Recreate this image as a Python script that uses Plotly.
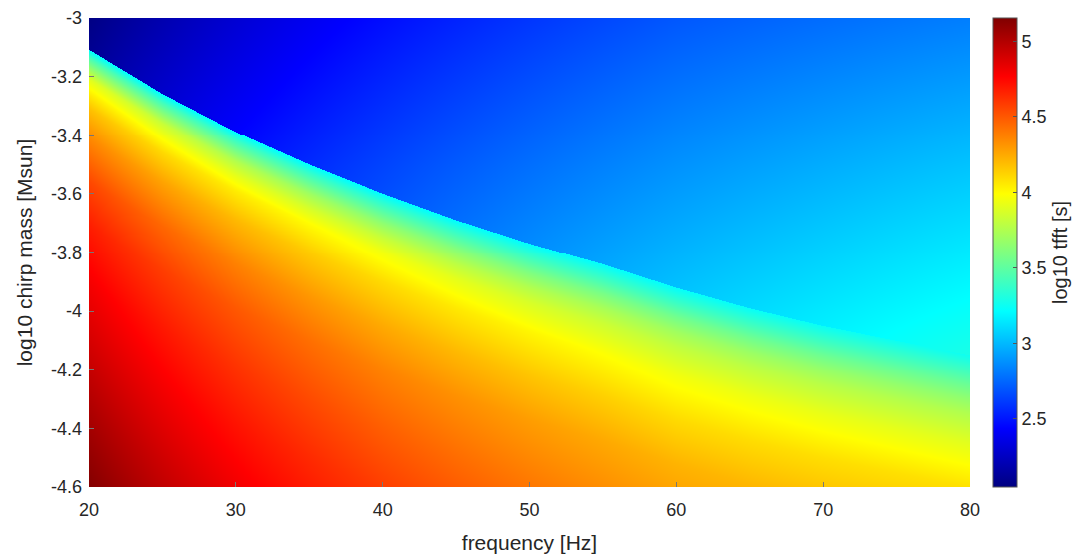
import numpy as np
import plotly.graph_objects as go

# ---- data ----
# boundary between the two regimes (log10 chirp mass at each frequency)
bnd_freq = [20, 25, 30, 35, 40, 45, 50, 55, 60, 65, 70, 75, 80]
bnd_mass = [-3.11, -3.26, -3.39, -3.50, -3.60, -3.69, -3.77, -3.84, -3.92, -3.99, -4.05, -4.10, -4.15]

# lower regime: log10 tfft vs depth below the boundary, at four frequency columns
col_freq = [20, 40, 60, 80]
delta_grid = [0, 0.03, 0.06, 0.1, 0.15, 0.2, 0.3, 0.45, 0.6, 0.8, 1.0, 1.25, 1.5]
lower_f20 = [3.20, 3.45, 3.65, 3.90, 4.05, 4.18, 4.35, 4.55, 4.68, 4.80, 4.90, 5.03, 5.15]
lower_f40 = [3.20, 3.35, 3.48, 3.65, 3.82, 3.95, 4.10, 4.25, 4.37, 4.48, 4.58, 4.68, 4.78]
lower_f60 = [3.22, 3.32, 3.42, 3.56, 3.70, 3.80, 3.95, 4.10, 4.22, 4.32, 4.42, 4.52, 4.62]
lower_f80 = [3.26, 3.34, 3.42, 3.53, 3.65, 3.75, 3.90, 4.08, 4.18, 4.28, 4.38, 4.48, 4.58]

# upper regime: log10 tfft on a coarse (mass, frequency) table
upper_mass = [-4.5, -4.0, -3.5, -3.0]
upper_f20 = [2.55, 2.39, 2.23, 2.06]
upper_f40 = [2.92, 2.78, 2.64, 2.47]
upper_f60 = [3.20, 3.05, 2.88, 2.70]
upper_f80 = [3.42, 3.23, 3.03, 2.82]

x_ticks = [20, 30, 40, 50, 60, 70, 80]
y_ticks = [-3.0, -3.2, -3.4, -3.6, -3.8, -4.0, -4.2, -4.4, -4.6]
y_ticktext = ["-3", "-3.2", "-3.4", "-3.6", "-3.8", "-4", "-4.2", "-4.4", "-4.6"]
cb_ticks = [2.5, 3, 3.5, 4, 4.5, 5]
cb_ticktext = ["2.5", "3", "3.5", "4", "4.5", "5"]
z_min, z_max = 2.048, 5.155

# ---- build the image grid from the read values ----
fx = np.linspace(20, 80, 881)
my = np.linspace(-4.6, -3.0, 474)
F, M = np.meshgrid(fx, my)
logF = np.log10(F)
logc = np.log10(col_freq)

mb = np.interp(F, bnd_freq, bnd_mass)
D = mb - M

lower_cols = [lower_f20, lower_f40, lower_f60, lower_f80]
upper_cols = [upper_f20, upper_f40, upper_f60, upper_f80]

def across_columns(vals):
    # vals: arrays evaluated at each column frequency; blend in log f
    out = np.zeros_like(F)
    for i in range(len(logc) - 1):
        lo, hi = logc[i], logc[i + 1]
        w = (logF - lo) / (hi - lo)
        sel = (logF >= lo - 1e-12) & (logF <= hi + 1e-12)
        out[sel] = ((1 - w) * vals[i] + w * vals[i + 1])[sel]
    return out

low_vals = [np.interp(np.clip(D, 0, None), delta_grid, c) for c in lower_cols]
up_vals = [np.interp(M, upper_mass, c) for c in upper_cols]
Z_low = across_columns(low_vals)
Z_up = across_columns(up_vals)
Z = np.where(D >= 0, Z_low, Z_up)

jet = [
    [0.0, "rgb(0,0,128)"],
    [0.125, "rgb(0,0,255)"],
    [0.375, "rgb(0,255,255)"],
    [0.625, "rgb(255,255,0)"],
    [0.875, "rgb(255,0,0)"],
    [1.0, "rgb(128,0,0)"],
]

txt = "#262626"
fig = go.Figure(
    go.Heatmap(
        x=fx, y=my, z=Z, colorscale=jet, zmin=z_min, zmax=z_max,
        colorbar=dict(
            x=(993 - 89) / 881, xanchor="left", xpad=0,
            y=0, yanchor="bottom", len=1, lenmode="fraction", ypad=0,
            thickness=24, thicknessmode="pixels",
            outlinewidth=1, outlinecolor="#555555",
            ticks="inside", ticklen=4, tickcolor="#555555",
            tickvals=cb_ticks, ticktext=cb_ticktext,
            tickfont=dict(size=18, color=txt),
            title=dict(text="log10 tfft [s]", side="right", font=dict(size=20, color=txt)),
        ),
    )
)

fig.update_layout(
    width=1087, height=559,
    margin=dict(l=81, r=125, t=10, b=80, autoexpand=False),
    paper_bgcolor="white", plot_bgcolor="white",
    font=dict(family="Liberation Sans, Arial, sans-serif", color=txt),
)
fig.update_xaxes(
    range=[20, 80], tickvals=x_ticks, ticks="inside", ticklen=5, tickcolor="#777777",
    showgrid=False, zeroline=False, showline=False, mirror=True, automargin=False,
    ticklabelstandoff=10, ticklabeloverflow="allow",
    tickfont=dict(size=18, color=txt),
    title=dict(text="frequency [Hz]", font=dict(size=21, color=txt), standoff=16),
)
fig.update_yaxes(
    range=[-4.6, -3.0], tickvals=y_ticks, ticktext=y_ticktext, ticks="inside", ticklen=5,
    tickcolor="#777777", showgrid=False, zeroline=False, showline=False, mirror=True,
    automargin=False, ticklabelstandoff=6, ticklabeloverflow="allow",
    tickfont=dict(size=18, color=txt),
    title=dict(text="log10 chirp mass [Msun]", font=dict(size=21, color=txt), standoff=12),
)

fig.write_html("out.html")
